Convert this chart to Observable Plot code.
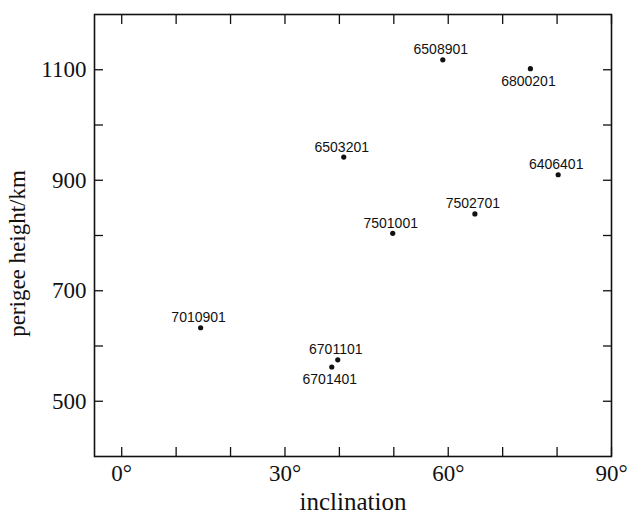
<!DOCTYPE html>
<html><head><meta charset="utf-8">
<script src="https://cdn.jsdelivr.net/npm/d3@7"></script>
<script src="https://cdn.jsdelivr.net/npm/@observablehq/plot@0.6"></script>
<style>body{margin:0;background:#fff}</style>
</head><body><div id="chart"></div>
<script>
const satellites  = ["6508901","6800201","6503201","6406401","7502701","7501001","7010901","6701101","6701401"];
const inclinations = [59.0, 75.1, 40.8, 80.2, 64.9, 49.8, 14.5, 39.7, 38.6];
const perigees     = [1118, 1102, 942, 910, 839, 804, 633, 575, 562];
const labelSides   = ["above","below","above","above","above","above","above","above","below"];
const xTicks = [0, 10, 20, 30, 40, 50, 60, 70, 80, 90];
const xTickLabels = [0, 30, 60, 90];
const yTicks = [500, 600, 700, 800, 900, 1000, 1100];
const yTickLabels = [500, 700, 900, 1100];

const data = satellites.map((s, i) => ({name: s, inc: inclinations[i], hp: perigees[i], side: labelSides[i]}));

const serif = "'Liberation Serif', 'Times New Roman', serif";
const sans = "'Liberation Sans', Arial, sans-serif";

const chart = Plot.plot({
  width: 630,
  height: 514,
  marginLeft: 94,
  marginRight: 19,
  marginTop: 14,
  marginBottom: 58,
  style: {fontFamily: serif, fontSize: "22px", background: "#fff", color: "#111"},
  x: {domain: [-5, 90]},
  y: {domain: [400, 1200]},
  marks: [
    Plot.frame({stroke: "#111", strokeWidth: 1.6}),
    Plot.axisX(xTicks, {anchor: "bottom", tickSize: -9, tickFormat: () => "", label: null, strokeWidth: 1.3}),
    Plot.axisX(xTicks, {anchor: "top", tickSize: -9, tickFormat: () => "", label: null, strokeWidth: 1.3}),
    Plot.axisX(xTickLabels, {anchor: "bottom", tickSize: 0, tickPadding: 8, tickFormat: d => d + "°", label: null, fontSize: 23}),
    Plot.axisY(yTicks, {anchor: "left", tickSize: -9, tickFormat: () => "", label: null, strokeWidth: 1.3}),
    Plot.axisY(yTicks, {anchor: "right", tickSize: -9, tickFormat: () => "", label: null, strokeWidth: 1.3}),
    Plot.axisY(yTickLabels, {anchor: "left", tickSize: 0, tickPadding: 8, tickFormat: d => String(d), label: null, fontSize: 23}),
    Plot.text(["inclination"], {text: d => d, frameAnchor: "bottom", textAnchor: "middle", dy: 53, lineAnchor: "bottom", fontSize: 25, fontFamily: serif}),
    Plot.text(["perigee height/km"], {text: d => d, frameAnchor: "left", textAnchor: "middle", rotate: -90, dx: -77, dy: 18, lineAnchor: "middle", fontSize: 23, fontFamily: serif}),
    Plot.dot(data, {x: "inc", y: "hp", r: 2.6, fill: "#111", stroke: null}),
    Plot.text(data.filter(d => d.side === "above"), {x: "inc", y: "hp", text: "name", dy: -10, dx: -2, lineAnchor: "middle", fontFamily: sans, fontSize: 14, fill: "#111"}),
    Plot.text(data.filter(d => d.side === "below"), {x: "inc", y: "hp", text: "name", dy: 13, dx: -2, lineAnchor: "middle", fontFamily: sans, fontSize: 14, fill: "#111"})
  ]
});
document.getElementById("chart").appendChild(chart);
</script>
</body></html>
